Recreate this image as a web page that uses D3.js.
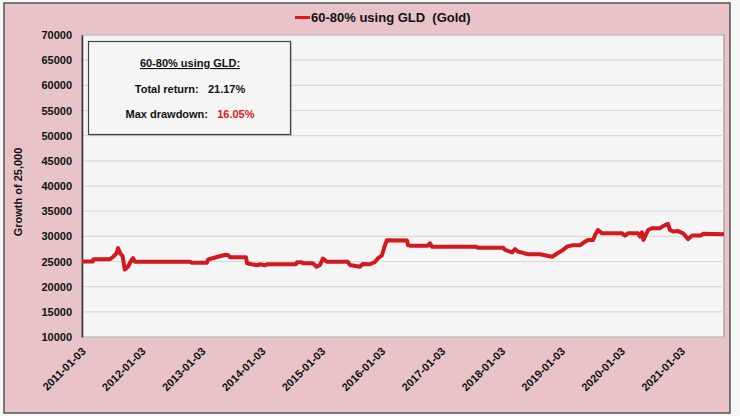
<!DOCTYPE html>
<html><head><meta charset="utf-8">
<script src="https://cdn.jsdelivr.net/npm/d3@7"></script>
<style>
html,body{margin:0;padding:0;background:#f7f7f7;}
svg{display:block;font-family:"Liberation Sans",Arial,sans-serif;}
</style></head>
<body><svg id="c" width="740" height="416"></svg>
<script>
const seriesName = "60-80% using GLD  (Gold)";
const dates = ["2011-01-03","2011-03-10","2011-03-13","2011-06-22","2011-07-12","2011-08-01","2011-08-11","2011-08-26","2011-09-07","2011-09-21","2011-10-11","2011-11-01","2011-11-10","2011-11-21","2012-10-23","2012-11-02","2013-02-03","2013-02-08","2013-02-15","2013-04-10","2013-05-23","2013-06-11","2013-06-23","2013-09-29","2013-10-05","2013-11-04","2013-12-10","2013-12-22","2014-01-23","2014-02-04","2014-07-30","2014-08-05","2014-09-04","2014-09-11","2014-11-10","2014-12-03","2014-12-23","2015-01-11","2015-02-03","2015-06-11","2015-06-24","2015-08-23","2015-09-10","2015-10-23","2015-11-22","2015-12-11","2016-01-04","2016-01-24","2016-02-04","2016-06-06","2016-06-12","2016-06-24","2016-10-11","2016-10-24","2016-11-05","2017-07-31","2017-08-12","2018-01-12","2018-01-25","2018-03-09","2018-03-27","2018-04-14","2018-06-14","2018-08-26","2018-10-08","2018-11-07","2018-12-08","2019-01-13","2019-02-07","2019-03-15","2019-04-27","2019-05-27","2019-06-14","2019-07-15","2019-07-27","2019-08-14","2019-09-08","2020-01-08","2020-01-26","2020-02-13","2020-04-14","2020-04-26","2020-05-08","2020-05-17","2020-06-14","2020-07-08","2020-08-26","2020-09-07","2020-10-13","2020-10-26","2020-11-13","2020-12-14","2021-01-14","2021-02-13","2021-03-10","2021-05-03","2021-05-16","2021-09-20"];
const values = [25000,25000,25450,25450,25950,26600,27650,26500,26100,23400,24000,25300,25650,24960,24960,24760,24760,25300,25450,25950,26300,26300,25850,25850,24650,24450,24250,24450,24250,24450,24450,24850,24850,24650,24650,23950,24300,25600,24960,24960,24300,23970,24500,24450,24850,25600,26150,28280,29200,29150,28280,28150,28150,28600,27950,27950,27750,27750,27300,26800,27450,26950,26450,26450,26150,25950,26600,27300,27950,28250,28250,28950,29250,29250,30250,31250,30600,30600,30150,30600,30600,29950,30800,29300,31250,31600,31600,31900,32500,31250,30950,31050,30600,29450,30150,30150,30500,30400];
const xTickLabels = ["2011-01-03","2012-01-03","2013-01-03","2014-01-03","2015-01-03","2016-01-03","2017-01-03","2018-01-03","2019-01-03","2020-01-03","2021-01-03"];
const yTicks = [10000,15000,20000,25000,30000,35000,40000,45000,50000,55000,60000,65000,70000];
const boxTitle = "60-80% using GLD:";
const totalReturn = "21.17%";
const maxDrawdown = "16.05%";

const parse = d3.timeParse("%Y-%m-%d");
const data = dates.map((d,i)=>({date:parse(d), value:values[i]}));

const svg = d3.select("#c");
const L=82, R=724, T=35, B=337;

svg.append("rect").attr("x",4).attr("y",3).attr("width",726).attr("height",410)
  .attr("fill","#e8c3c8").attr("stroke","#555").attr("stroke-width",1.5);

const x = d3.scaleTime().domain([parse("2011-01-03"), parse("2021-09-20")]).range([L,R]);
const y = d3.scaleLinear().domain([10000,70000]).range([B,T]);

svg.append("rect").attr("x",L).attr("y",T).attr("width",R-L).attr("height",B-T)
  .attr("fill","#f5f5f5").attr("stroke","#8a8a8a").attr("stroke-width",1);

// grid
svg.append("g").selectAll("line").data(yTicks).join("line")
  .attr("x1",L).attr("x2",R).attr("y1",d=>y(d)).attr("y2",d=>y(d))
  .attr("stroke","#dadada").attr("stroke-width",1.2);

// y axis
const ya = svg.append("g").attr("transform",`translate(${L},0)`)
  .call(d3.axisLeft(y).tickValues(yTicks).tickSize(0).tickPadding(10).tickFormat(d3.format("d")));
ya.select(".domain").attr("stroke","#333").attr("stroke-width",1.5);
ya.selectAll("text").attr("font-size",11).attr("font-weight","bold").attr("fill","#111")
  .attr("font-family","'Liberation Sans',Arial,sans-serif");

// x axis labels
const xa = svg.append("g").attr("transform",`translate(0,${B})`)
  .call(d3.axisBottom(x).tickValues(xTickLabels.map(parse)).tickSize(0).tickFormat(d3.timeFormat("%Y-%m-%d")));
xa.select(".domain").remove();
xa.selectAll("text").attr("font-size",11).attr("font-weight","bold").attr("fill","#111")
  .attr("font-family","'Liberation Sans',Arial,sans-serif")
  .attr("text-anchor","end").attr("dy",null).attr("y",0)
  .attr("transform","translate(4,15) rotate(-45)");

// y title
svg.append("text").attr("transform","translate(22,192) rotate(-90)")
  .attr("text-anchor","middle").attr("font-size",11).attr("font-weight","bold").attr("fill","#111")
  .text("Growth of 25,000");

// line
const line = d3.line().x(d=>x(d.date)).y(d=>y(d.value));
svg.append("path").datum(data).attr("d",line).attr("fill","none")
  .attr("stroke","#c81b22").attr("stroke-width",4).attr("stroke-linejoin","round");
svg.append("path").datum(data).attr("d",line).attr("fill","none")
  .attr("stroke","#e0161c").attr("stroke-width",1.5).attr("stroke-linejoin","round");

// legend title
svg.append("line").attr("x1",295).attr("x2",310).attr("y1",17.5).attr("y2",17.5)
  .attr("stroke","#e0161c").attr("stroke-width",3);
svg.append("text").attr("x",311).attr("y",22).attr("font-size",13).attr("font-weight","bold")
  .attr("fill","#111").attr("xml:space","preserve").style("white-space","pre").text(seriesName);

// annotation box
svg.append("rect").attr("x",90).attr("y",43).attr("width",202).attr("height",93).attr("fill","#aaa").attr("opacity",0.6);
svg.append("rect").attr("x",88.5).attr("y",41.5).attr("width",202).attr("height",93)
  .attr("fill","#f5f5f5").attr("stroke","#444").attr("stroke-width",1.2);
const cx = 190;
svg.append("text").attr("x",cx).attr("y",67).attr("text-anchor","middle").attr("font-size",11)
  .attr("font-weight","bold").attr("fill","#111").attr("text-decoration","underline").text(boxTitle);
const t2 = svg.append("text").attr("x",cx).attr("y",93).attr("text-anchor","middle").attr("font-size",11)
  .attr("font-weight","bold").attr("fill","#111").style("white-space","pre");
t2.append("tspan").text("Total return:   ");
t2.append("tspan").text(totalReturn);
const t3 = svg.append("text").attr("x",cx).attr("y",118).attr("text-anchor","middle").attr("font-size",11)
  .attr("font-weight","bold").attr("fill","#111").style("white-space","pre");
t3.append("tspan").text("Max drawdown:   ");
t3.append("tspan").attr("fill","#e0161c").text(maxDrawdown);
</script></body></html>
